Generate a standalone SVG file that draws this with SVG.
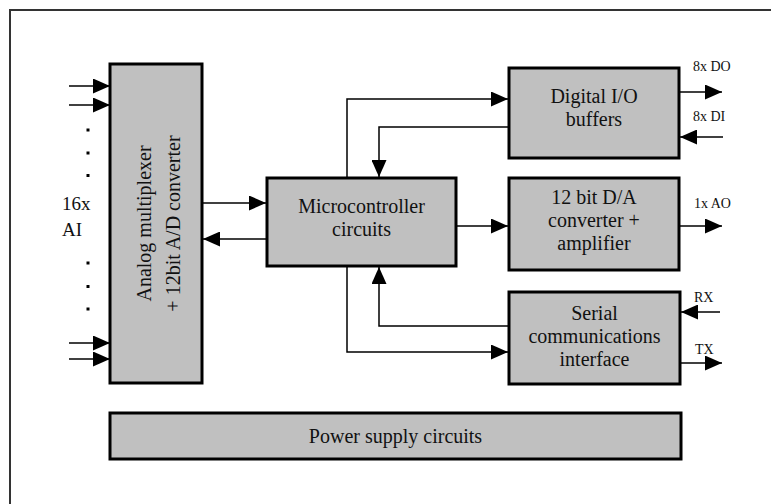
<svg xmlns="http://www.w3.org/2000/svg" width="771" height="504" viewBox="0 0 771 504">
<style>
.box{fill:#c0c0c0;stroke:#000;stroke-width:3}
.t{font-family:"Liberation Serif","Times New Roman",serif;font-size:20px;fill:#111;text-anchor:middle}
.s{font-family:"Liberation Serif","Times New Roman",serif;font-size:14px;fill:#111}
.c{fill:none;stroke:#000;stroke-width:1.5}
</style>
<defs>
<marker id="ah" markerUnits="userSpaceOnUse" markerWidth="17" markerHeight="15" refX="17" refY="7.5" orient="auto" viewBox="0 0 17 15">
<path d="M0,0 L17,7.5 L0,15 z" fill="#000"/>
</marker>
</defs>
<rect x="10" y="10" width="800" height="600" fill="#fff" stroke="#333" stroke-width="2"/>

<g id="adc">
<rect class="box" x="110" y="64" width="92" height="319"/>
<text class="t" transform="translate(151,223.5) rotate(-90)">Analog multiplexer</text>
<text class="t" transform="translate(180,223.5) rotate(-90)">+ 12bit A/D converter</text>
</g>
<g id="mcu">
<rect class="box" x="267" y="178" width="189" height="88"/>
<text class="t" x="361.5" y="213">Microcontroller</text>
<text class="t" x="361.5" y="236">circuits</text>
</g>
<g id="dio">
<rect class="box" x="509" y="68" width="170" height="90"/>
<text class="t" x="594" y="103">Digital I/O</text>
<text class="t" x="594" y="126">buffers</text>
</g>
<g id="dac">
<rect class="box" x="509" y="178" width="170" height="92"/>
<text class="t" x="594" y="204">12 bit D/A</text>
<text class="t" x="594" y="227">converter +</text>
<text class="t" x="594" y="250">amplifier</text>
</g>
<g id="serial">
<rect class="box" x="509" y="292" width="171" height="92"/>
<text class="t" x="594.5" y="320">Serial</text>
<text class="t" x="594.5" y="343">communications</text>
<text class="t" x="594.5" y="366">interface</text>
</g>
<g id="power">
<rect class="box" x="110" y="413" width="571" height="46"/>
<text class="t" x="395.5" y="443">Power supply circuits</text>
</g>
<g id="ai-label">
<text class="t" style="text-anchor:start;font-size:19px" x="62" y="210">16x</text>
<text class="t" style="text-anchor:start;font-size:19px" x="62" y="236">AI</text>
<rect x="86.5" y="128.5" width="3" height="3" fill="#000"/>
<rect x="86.5" y="151.5" width="3" height="3" fill="#000"/>
<rect x="86.5" y="174" width="3" height="3" fill="#000"/>
<rect x="86.5" y="261.5" width="3" height="3" fill="#000"/>
<rect x="86.5" y="285" width="3" height="3" fill="#000"/>
<rect x="86.5" y="307.5" width="3" height="3" fill="#000"/>
</g>
<g id="io-labels">
<text class="s" x="693" y="71">8x DO</text>
<text class="s" x="693" y="121">8x DI</text>
<text class="s" x="694" y="208">1x AO</text>
<text class="s" x="694" y="302">RX</text>
<text class="s" x="695" y="354">TX</text>
</g>
<g id="connectors">
<line class="c" x1="69" y1="86" x2="110" y2="86" marker-end="url(#ah)"/>
<line class="c" x1="69" y1="105" x2="110" y2="105" marker-end="url(#ah)"/>
<line class="c" x1="69" y1="343" x2="110" y2="343" marker-end="url(#ah)"/>
<line class="c" x1="69" y1="359" x2="110" y2="359" marker-end="url(#ah)"/>
<line class="c" x1="203" y1="203" x2="266" y2="203" marker-end="url(#ah)"/>
<line class="c" x1="266" y1="239" x2="203" y2="239" marker-end="url(#ah)"/>
<polyline class="c" points="347,177 347,99 508,99" marker-end="url(#ah)"/>
<polyline class="c" points="508,127 379,127 379,177" marker-end="url(#ah)"/>
<line class="c" x1="457" y1="226" x2="508" y2="226" marker-end="url(#ah)"/>
<polyline class="c" points="508,326 379,326 379,267" marker-end="url(#ah)"/>
<polyline class="c" points="347,267 347,352 508,352" marker-end="url(#ah)"/>
<line class="c" x1="680" y1="92" x2="722" y2="92" marker-end="url(#ah)"/>
<line class="c" x1="723" y1="137" x2="680" y2="137" marker-end="url(#ah)"/>
<line class="c" x1="680" y1="226" x2="722" y2="226" marker-end="url(#ah)"/>
<line class="c" x1="720" y1="312" x2="681" y2="312" marker-end="url(#ah)"/>
<line class="c" x1="681" y1="363" x2="722" y2="363" marker-end="url(#ah)"/>
</g>
</svg>
